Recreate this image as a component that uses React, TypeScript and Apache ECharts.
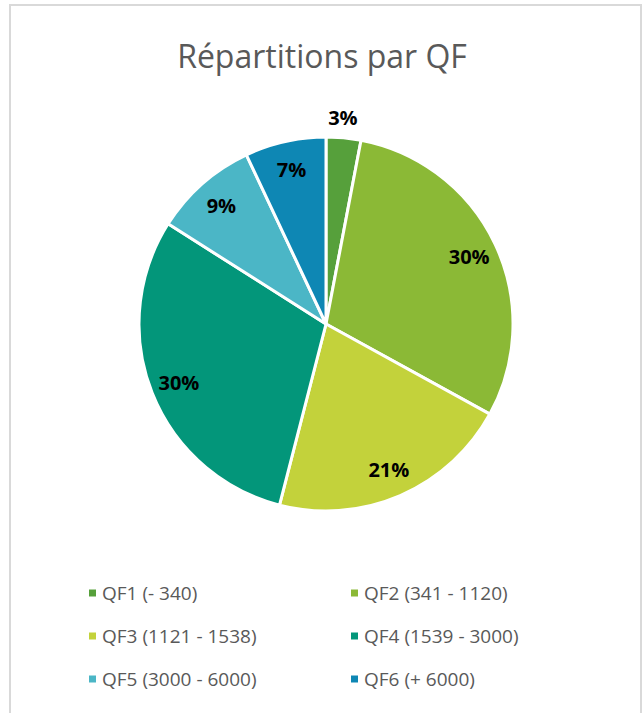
import React, { useEffect, useRef } from "react";
import * as echarts from "echarts";

const categories = [
  "QF1 (- 340)",
  "QF2 (341 - 1120)",
  "QF3 (1121 - 1538)",
  "QF4 (1539 - 3000)",
  "QF5 (3000 - 6000)",
  "QF6 (+ 6000)",
];
const values = [3, 30, 21, 30, 9, 7];
const colors = ["#56A03B", "#8BB936", "#C3D23B", "#03967A", "#4BB6C6", "#0E87B4"];
const leftColumn = [categories[0], categories[2], categories[4]];
const rightColumn = [categories[1], categories[3], categories[5]];

const FONT = "'Open Sans', 'Noto Sans', sans-serif";

export default function App() {
  const ref = useRef<HTMLDivElement>(null);
  useEffect(() => {
    if (!ref.current) return;
    const chart = echarts.init(ref.current, undefined, { renderer: "svg" });
    const cx = 326;
    const cy = 324;
    const R = 187;
    const legendText = { color: "#595959", fontSize: 19, fontFamily: FONT, lineHeight: 20 };
    chart.setOption({
      animation: false,
      color: colors,
      title: {
        text: "Répartitions par QF",
        left: "center",
        top: 34,
        textStyle: { color: "#595959", fontSize: 32, fontWeight: "normal", fontFamily: FONT },
      },
      graphic: [
        {
          type: "rect",
          shape: { x: 10, y: 5, width: 631, height: 720 },
          style: { fill: "none", stroke: "#D9D9D9", lineWidth: 2 },
          silent: true,
        },
      ],
      legend: [
        {
          data: leftColumn,
          orient: "vertical",
          left: 82,
          top: 578,
          itemWidth: 9,
          itemHeight: 9,
          itemGap: 23,
          icon: "rect",
          textStyle: legendText,
        },
        {
          data: rightColumn,
          orient: "vertical",
          left: 344,
          top: 578,
          itemWidth: 9,
          itemHeight: 9,
          itemGap: 23,
          icon: "rect",
          textStyle: legendText,
        },
      ],
      series: [
        {
          type: "pie",
          center: [cx, cy],
          radius: [0, R],
          startAngle: 90,
          clockwise: true,
          label: { show: false },
          labelLine: { show: false },
          itemStyle: { borderColor: "#FFFFFF", borderWidth: 3 },
          emphasis: { disabled: true },
          data: categories.map((name, i) => ({ name, value: values[i] })),
        },
        {
          type: "pie",
          center: [cx, cy],
          radius: [R * 0.66, R],
          startAngle: 90,
          clockwise: true,
          silent: true,
          itemStyle: { color: "rgba(0,0,0,0)" },
          emphasis: { disabled: true },
          labelLine: { show: false },
          label: {
            show: true,
            position: "inside",
            formatter: "{c}%",
            color: "#000000",
            fontWeight: "bold",
            fontSize: 20,
            fontFamily: FONT,
          },
          data: categories.map((name, i) => ({
            name,
            value: values[i],
            label: i === 0 ? { offset: [2, -49] } : undefined,
          })),
        },
      ],
    });
    return () => chart.dispose();
  }, []);
  return (
    <div
      ref={ref}
      style={{ position: "fixed", left: 0, top: 0, width: 644, height: 713, background: "#FFFFFF" }}
    />
  );
}
